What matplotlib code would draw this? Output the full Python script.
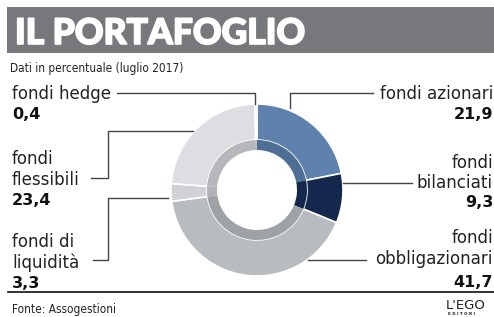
import matplotlib.pyplot as plt
import matplotlib.patheffects as pe
from matplotlib.patches import Rectangle

# data
labels = [['fondi azionari'], ['fondi', 'bilanciati'], ['fondi', 'obbligazionari'],
          ['fondi di', 'liquidità'], ['fondi', 'flessibili'], ['fondi hedge']]
values = [21.9, 9.3, 41.7, 3.3, 23.4, 0.4]
value_text = ['21,9', '9,3', '41,7', '3,3', '23,4', '0,4']
colors = ['#5e82ad', '#13284c', '#b8bbbf', '#cfd1d5', '#dcdee2', '#e6e7e9']
inner_colors = ['#4f6e96', '#13284c', '#9ea1a5', '#b0b2b6', '#b5b7bb', '#c0c1c3']

W, H = 494, 317
plt.rcParams['font.family'] = ['DejaVu Sans']

fig = plt.figure(figsize=(W / 100, H / 100), dpi=100)
ax = fig.add_axes([0, 0, 1, 1])

def Y(py):
    return H - py

cx, cy = 257, Y(190)
ax.pie(values, colors=colors, startangle=90, counterclock=False,
       center=(cx, cy), radius=86,
       wedgeprops=dict(width=36, edgecolor='white', linewidth=1.2))
ax.pie(values, colors=inner_colors, startangle=90, counterclock=False,
       center=(cx, cy), radius=50,
       wedgeprops=dict(width=10, edgecolor='none', linewidth=0))
ax.set_xlim(0, W)
ax.set_ylim(0, H)
ax.set_aspect('equal')
ax.axis('off')

# title bar
ax.add_patch(Rectangle((7, Y(53)), W - 7, 46, color='#76787b', lw=0))
ax.text(15, Y(44), 'IL PORTAFOGLIO', color='white', fontsize=25.5,
        fontweight='black', family=['Lato', 'DejaVu Sans'], va='baseline', ha='left',
        path_effects=[pe.withStroke(linewidth=1.2, foreground='white')])
ax.text(10, Y(72), 'Dati in percentuale (luglio 2017)', fontsize=8.5,
        color='#222222', va='baseline', fontstretch='condensed')

lc = '#444444'
tc = '#222222'
fs = 13.3
vfs = 11.5

def label(x, baselines, lines, vbase, vtext, ha='left'):
    for b, t in zip(baselines, lines):
        ax.text(x, Y(b), t, fontsize=fs, va='baseline', ha=ha, color=tc,
                fontstretch='condensed')
    ax.text(x, Y(vbase), vtext, fontsize=vfs, fontweight='bold', va='baseline',
            ha=ha, color='#111111')

# left labels
label(12, [99], labels[5], 119, value_text[5])
ax.plot([117, 255, 255], [Y(93), Y(93), Y(104)], color=lc, lw=1)

label(12, [164, 185], labels[4], 205, value_text[4])
ax.plot([91, 108, 108, 193], [Y(178), Y(178), Y(131), Y(131)], color=lc, lw=1)

label(12, [247, 268], labels[3], 288, value_text[3])
ax.plot([93, 108, 108, 168], [Y(260), Y(260), Y(198), Y(198)], color=lc, lw=1)

# right labels
rx = 493
label(rx, [99], labels[0], 119, value_text[0], ha='right')
ax.plot([373, 290, 290], [Y(93), Y(93), Y(108)], color=lc, lw=1)

label(rx, [168, 188], labels[1], 207, value_text[1], ha='right')
ax.plot([343, 412], [Y(183), Y(183)], color=lc, lw=1)

label(rx, [243, 264], labels[2], 287, value_text[2], ha='right')
ax.plot([308, 366], [Y(260), Y(260)], color=lc, lw=1)

# footer
ax.plot([8, W], [Y(292), Y(292)], color='#222222', lw=1.3)
ax.text(12, Y(313), 'Fonte: Assogestioni', fontsize=8.5, va='baseline', color=tc,
        fontstretch='condensed')
ax.text(446, Y(309), "L'EGO", fontsize=9.5, va='baseline', color=tc)
ax.text(448, Y(315), 'E D I T O R I', fontsize=3, fontweight='bold', va='baseline', color=tc)

fig.savefig('out.png', dpi=100)
